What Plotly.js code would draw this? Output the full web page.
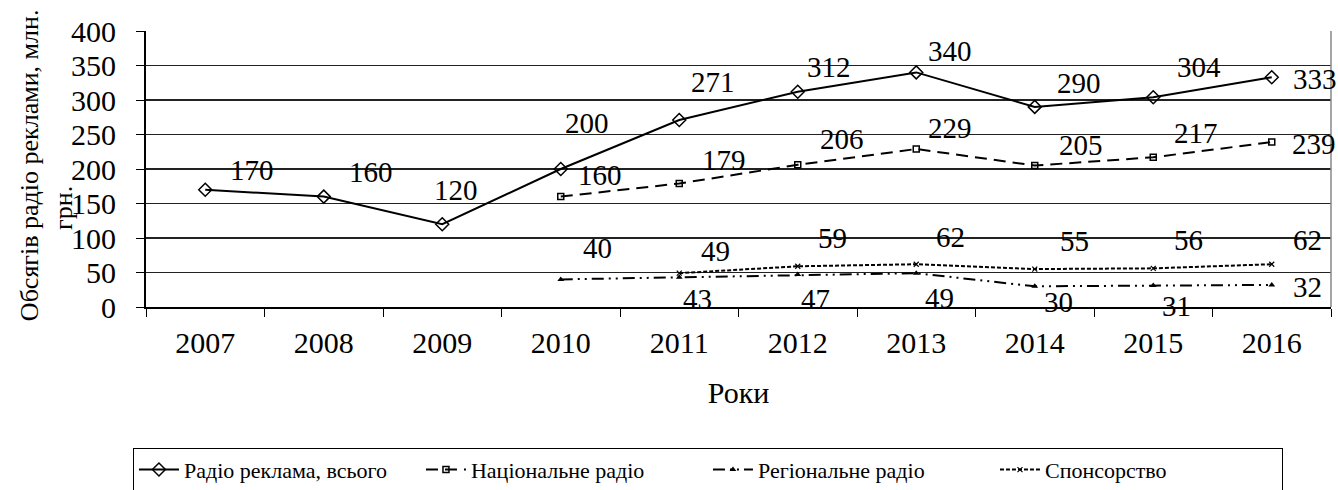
<!DOCTYPE html>
<html>
<head>
<meta charset="utf-8">
<script src="https://cdn.plot.ly/plotly-3.0.1.min.js"></script>
<style>
    html, body { margin: 0; padding: 0; background: #fff; }
    #chart { width: 1338px; height: 490px; }
</style>
</head>
<body>
<div id="chart"></div>
<script>
// Chart data
const years = ['2007', '2008', '2009', '2010', '2011', '2012', '2013', '2014', '2015', '2016'];
const totalRadio = [170, 160, 120, 200, 271, 312, 340, 290, 304, 333];
const nationalRadio = [null, null, null, 160, 179, 206, 229, 205, 217, 239];
const regionalRadio = [null, null, null, 40, 43, 47, 49, 30, 31, 32];
const sponsorship = [null, null, null, null, 49, 59, 62, 55, 56, 62];

const seriesNames = ['Радіо реклама, всього', 'Національне радіо', 'Регіональне радіо', 'Спонсорство'];

// Label offsets in pixels (dx right, dy down), one per year
const totalOffsets = [[47, -20], [47, -25], [14, -34], [26, -46], [34, -38], [31, -25], [34, -21], [44, -24], [46, -30], [43, 2]];
const nationalOffsets = [null, null, null, [39, -22], [45, -23], [44, -26], [34, -21], [46, -21], [43, -24], [42, 2]];
const regionalOffsets = [null, null, null, [37, -31], [18, 22], [18, 24], [23, 25], [24, 16], [23, 20], [36, 2]];
const sponsorOffsets = [null, null, null, null, [36, -22], [35, -28], [34, -27], [40, -28], [35, -28], [36, -24]];

const FONT = 'Liberation Serif';

document.addEventListener('DOMContentLoaded', () => {
    createRadioPlot();
});

// data labels as annotations; x is the category index so the
// numeric-looking year names are not read as positions
function makeLabels(values, offsets) {
    const out = [];
    values.forEach((v, i) => {
        if (v === null) return;
        const off = offsets[i];
        out.push({
            xref: 'x', yref: 'y',
            x: i,
            y: v,
            text: String(v),
            showarrow: false,
            xanchor: 'center',
            yanchor: 'middle',
            xshift: off[0],
            yshift: -off[1],
            font: { family: FONT, size: 29, color: '#000' }
        });
    });
    return out;
}

function createRadioPlot() {
    const data = [{
        type: 'scatter',
        mode: 'lines+markers',
        x: years,
        y: totalRadio,
        name: seriesNames[0],
        line: { color: '#000', width: 2 },
        marker: { symbol: 'diamond-open', size: 10, color: '#000', line: { width: 1.5, color: '#000' } }
    }, {
        type: 'scatter',
        mode: 'lines+markers',
        x: years,
        y: nationalRadio,
        name: seriesNames[1],
        line: { color: '#000', width: 2, dash: '12px,7px' },
        marker: { symbol: 'square-open', size: 6, color: '#000', line: { width: 1.5, color: '#000' } }
    }, {
        type: 'scatter',
        mode: 'lines+markers',
        x: years,
        y: regionalRadio,
        name: seriesNames[2],
        line: { color: '#000', width: 2, dash: '12px,5px,2px,5px,2px,5px' },
        marker: { symbol: 'triangle-up', size: 6, color: '#000' }
    }, {
        type: 'scatter',
        mode: 'lines+markers',
        x: years,
        y: sponsorship,
        name: seriesNames[3],
        line: { color: '#000', width: 2, dash: '4px,2px' },
        marker: { symbol: 'x-thin-open', size: 5, color: '#000', line: { width: 1.2, color: '#000' } }
    }];

    const annotations = []
        .concat(makeLabels(totalRadio, totalOffsets))
        .concat(makeLabels(nationalRadio, nationalOffsets))
        .concat(makeLabels(regionalRadio, regionalOffsets))
        .concat(makeLabels(sponsorship, sponsorOffsets));

    // y-axis title: Excel wrapped it, the second line sits lower
    annotations.push({
        xref: 'paper', yref: 'paper',
        x: 0, y: 0.514,
        xshift: -117,
        textangle: -90,
        showarrow: false,
        xanchor: 'center', yanchor: 'middle',
        text: 'Обсягів радіо реклами, млн.',
        font: { family: FONT, size: 26, color: '#000' }
    }, {
        xref: 'paper', yref: 'paper',
        x: 0, y: 0.359,
        xshift: -82,
        textangle: -90,
        showarrow: false,
        xanchor: 'center', yanchor: 'middle',
        text: 'грн.',
        font: { family: FONT, size: 26, color: '#000' }
    });

    const layout = {
        width: 1338,
        height: 490,
        margin: { l: 146, r: 7, t: 31, b: 183, autoexpand: false },
        paper_bgcolor: '#fff',
        plot_bgcolor: '#fff',
        font: { family: FONT, color: '#000' },
        showlegend: true,
        xaxis: {
            type: 'category',
            range: [-0.5, 9.5],
            tickson: 'boundaries',
            ticks: 'outside',
            ticklen: 8,
            tickcolor: '#000',
            tickwidth: 1,
            showline: true,
            linecolor: '#000',
            linewidth: 2,
            showgrid: false,
            zeroline: false,
            tickfont: { family: FONT, size: 30, color: '#000' },
            ticklabelstandoff: 8,
            title: { text: 'Роки', font: { family: FONT, size: 30, color: '#000' }, standoff: 24 }
        },
        yaxis: {
            range: [0, 400],
            dtick: 50,
            ticks: 'outside',
            ticklen: 8,
            tickcolor: '#000',
            tickwidth: 1,
            showline: true,
            linecolor: '#000',
            linewidth: 2,
            showgrid: true,
            gridcolor: '#222',
            gridwidth: 1.2,
            zeroline: false,
            tickfont: { family: FONT, size: 30, color: '#000' },
            ticklabelstandoff: 14
        },
        legend: {
            orientation: 'h',
            x: -0.011,
            xanchor: 'left',
            y: -0.51,
            yanchor: 'top',
            bordercolor: '#000',
            borderwidth: 1,
            font: { family: FONT, size: 22, color: '#000' },
            entrywidth: 232,
            itemwidth: 40,
            bgcolor: '#fff'
        },
        shapes: [{
            type: 'line', xref: 'paper', yref: 'paper',
            x0: 1, x1: 1, y0: 0, y1: 1,
            line: { color: '#888', width: 1.5 }
        }],
        annotations: annotations
    };

    Plotly.newPlot('chart', data, layout, { displayModeBar: false, staticPlot: true });
}
</script>
</body>
</html>
